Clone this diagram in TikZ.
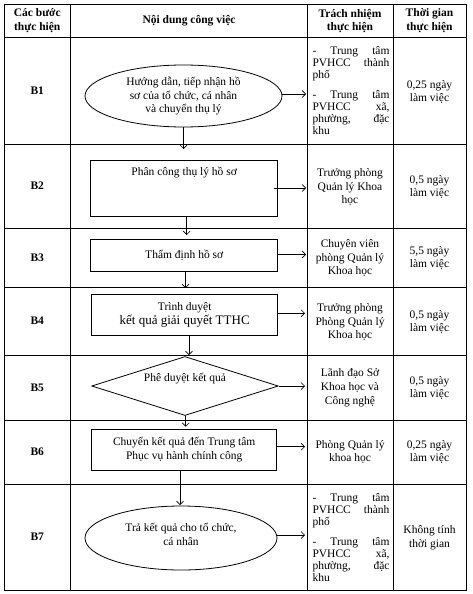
\documentclass[tikz,border=0pt]{standalone}
\usepackage{fontspec}
\setmainfont{Liberation Serif}
\usetikzlibrary{shapes.geometric,calc,arrows.meta}
\newcommand\ftx{\fontsize{11.5}{13.8}\selectfont}
\newcommand\ftxs{\fontsize{11.5}{12}\selectfont}
\newcommand\jl[1]{\makebox[77pt][s]{#1}}
\begin{document}
\begin{tikzpicture}[x=1pt,y=-1pt,
  grid/.style={line width=0.9pt},
  box/.style={draw,line width=0.8pt,rectangle,inner sep=0pt,align=center,font=\ftx},
  oval/.style={draw,line width=0.8pt,ellipse,inner sep=0pt,align=center,font=\ftx},
  arr/.style={-{Straight Barb[length=3.5pt,width=7pt]},line width=0.6pt},
  txt/.style={align=center,font=\ftx,inner sep=0pt},
  hd/.style={align=center,font=\ftx\bfseries,inner sep=0pt}]
\useasboundingbox (0,0) rectangle (473,594);
\fill[white] (0,0) rectangle (473,594);
% table grid
\draw[grid] (4,4) rectangle (466,590);
\foreach \x in {70.5,307,393} \draw[grid] (\x,4) -- (\x,590);
\foreach \y in {37,144,228,287,355,420,484} \draw[grid] (4,\y) -- (466,\y);
% header
\node[hd] (h1) at (37.25,21) {Các bước\\thực hiện};
\node[hd] (h2) at (189,21) {Nội dung công việc};
\node[hd] (h3) at (350,21) {Trách nhiệm\\thực hiện};
\node[hd] (h4) at (429.5,21) {Thời gian\\thực hiện};
% steps
\node[hd] (s1) at (37.25,91) {B1};
\node[hd] (s2) at (37.25,186) {B2};
\node[hd] (s3) at (37.25,257.5) {B3};
\node[hd] (s4) at (37.25,321) {B4};
\node[hd] (s5) at (37.25,387.5) {B5};
\node[hd] (s6) at (37.25,452) {B6};
\node[hd] (s7) at (37.25,537) {B7};
% flow shapes
\node[oval,minimum width=197pt,minimum height=62pt] (e1) at (183.5,96)
  {Hướng dẫn, tiếp nhận hồ\\sơ của tổ chức, cá nhân\\và chuyển thụ lý};
\node[box,minimum width=187pt,minimum height=56pt,
  label={[font=\ftx,anchor=north,yshift=-7pt,inner sep=0pt]north:Phân công thụ lý hồ sơ}] (b2) at (184.2,188) {};
\node[box,minimum width=187pt,minimum height=31.7pt] (b3) at (184.2,255.2) {Thẩm định hồ sơ};
\node[box,minimum width=186pt,minimum height=41pt] (b4) at (184.7,314.5)
  {Trình duyệt\\{\fontsize{13}{14.5}\selectfont kết quả giải quyết TTHC}};
\node[draw,line width=0.8pt,diamond,shape aspect=3.2,inner sep=0pt,minimum width=186.6pt,minimum height=59pt,
  label={[font=\ftx,yshift=7pt,inner sep=0pt]center:Phê duyệt kết quả}] (d5) at (185,386) {};
\node[box,minimum width=185pt,minimum height=40.7pt] (b6) at (184.2,449.7)
  {Chuyển kết quả đến Trung tâm\\Phục vụ hành chính công};
\node[oval,minimum width=192pt,minimum height=64pt,
  label={[font=\ftx,align=center,yshift=4pt,inner sep=0pt]center:Trả kết quả cho tổ chức,\\cá nhân}] (e7) at (181,538) {};
% responsibility column
\node[txt,align=left,font=\ftxs] (r1t) at (351,91)
  {\jl{- Trung tâm}\\\jl{PVHCC thành}\\phố\\[8pt]\jl{- Trung tâm}\\\jl{PVHCC xã,}\\\jl{phường, đặc}\\khu};
\node[txt] (r2t) at (350,187) {Trưởng phòng\\Quản lý Khoa\\học};
\node[txt] (r3t) at (350,258) {Chuyên viên\\phòng Quản lý\\Khoa học};
\node[txt] (r4t) at (350,322) {Trưởng phòng\\Phòng Quản lý\\Khoa học};
\node[txt] (r5t) at (350,388) {Lãnh đạo Sở\\Khoa học và\\Công nghệ};
\node[txt] (r6t) at (350,452) {Phòng Quản lý\\khoa học};
\node[txt,align=left,font=\ftxs] (r7t) at (351,538)
  {\jl{- Trung tâm}\\\jl{PVHCC thành}\\phố\\[8pt]\jl{- Trung tâm}\\\jl{PVHCC xã,}\\\jl{phường, đặc}\\khu};
% time column
\node[txt] (t1) at (429.5,92) {0,25 ngày\\làm việc};
\node[txt] (t2) at (429.5,187) {0,5 ngày\\làm việc};
\node[txt] (t3) at (429.5,258) {5,5 ngày\\làm việc};
\node[txt] (t4) at (429.5,322) {0,5 ngày\\làm việc};
\node[txt] (t5) at (429.5,388) {0,5 ngày\\làm việc};
\node[txt] (t6) at (429.5,452) {0,25 ngày\\làm việc};
\node[txt] (t7) at (429.5,538) {Không tính\\thời gian};
% arrow end points
\coordinate (r1) at (306,94);
\coordinate (r2) at (306,188);
\coordinate (r3) at (306,254.5);
\coordinate (r4) at (305,313.3);
\coordinate (r5) at (305,386);
\coordinate (r6) at (305,446.7);
\coordinate (r7) at (305,535);
\coordinate (d1) at (183.5,149);
\coordinate (d2) at (186.7,235);
\coordinate (d3) at (185.5,288);
\coordinate (d4) at (189,355);
\coordinate (d5e) at (185.7,426.7);
\coordinate (d6) at (180,505);
% horizontal arrows
\draw[arr] (e1.east |- r1) -- (r1);
\draw[arr] ($(b2.east)+(-4.5,0)$) -- (r2);
\draw[arr] (b3.east |- r3) -- (r3);
\draw[arr] (b4.east |- r4) -- (r4);
\draw[arr] (d5.east) -- (r5);
\draw[arr] (b6.east |- r6) -- (r6);
\draw[arr] (e7.east |- r7) -- (r7);
% vertical arrows
\draw[arr] (e1.south) -- (d1);
\draw[arr] (b2.south -| d2) -- (d2);
\draw[arr] (b3.south -| d3) -- (d3);
\draw[arr] (b4.south -| d4) -- (d4);
\draw[arr] (d5.south -| d5e) -- (d5e);
\draw[arr] (b6.south -| d6) -- (d6);
\end{tikzpicture}
\end{document}
